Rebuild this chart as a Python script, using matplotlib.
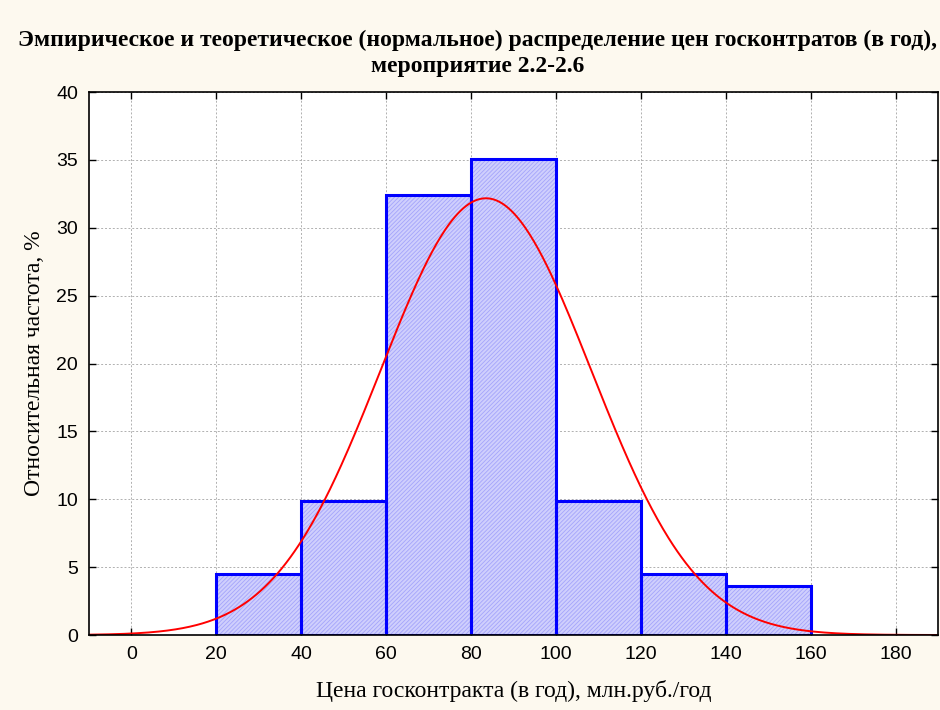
import numpy as np
import matplotlib
matplotlib.use("Agg")
import matplotlib.pyplot as plt

bin_edges = [20, 40, 60, 80, 100, 120, 140, 160]
rel_freq = [4.5, 9.9, 32.4, 35.1, 9.9, 4.5, 3.6]
norm_mean = 83.5
norm_sd = 24.8
bin_width = 20
x_ticks = [0, 20, 40, 60, 80, 100, 120, 140, 160, 180]
y_ticks = [0, 5, 10, 15, 20, 25, 30, 35, 40]

title = "Эмпирическое и теоретическое (нормальное) распределение цен госконтратов (в год),\nмероприятие 2.2-2.6"
xlabel = "Цена госконтракта (в год), млн.руб./год"
ylabel = "Относительная частота, %"

plt.rcParams['hatch.linewidth'] = 0.6
fig = plt.figure(figsize=(9.4, 7.1), dpi=100, facecolor='#fdf9ef')
ax = fig.add_axes([0.0947, 0.1056, 0.9032, 0.7648])
ax.set_facecolor('white')

lefts = bin_edges[:-1]
widths = np.diff(bin_edges)
ax.bar(lefts, rel_freq, width=widths, align='edge', facecolor='#cfcffd',
       edgecolor='#a4a4fb', linewidth=0, hatch='////////', zorder=2)
ax.bar(lefts, rel_freq, width=widths, align='edge', facecolor='none',
       edgecolor='#0000ff', linewidth=2.2, zorder=3)

xs = np.linspace(-10, 190, 600)
ys = 100 * bin_width / (norm_sd * np.sqrt(2 * np.pi)) * np.exp(-0.5 * ((xs - norm_mean) / norm_sd) ** 2)
ax.plot(xs, ys, color='red', linewidth=1.4, zorder=4)

ax.set_xlim(-10, 190)
ax.set_ylim(0, 40)
ax.set_xticks(x_ticks)
ax.set_yticks(y_ticks)
ax.grid(True, color='#b0b0b0', linestyle=(0, (2, 2)), linewidth=0.7, zorder=0)
ax.set_axisbelow(True)
ax.tick_params(direction='in', top=True, right=True, length=5, width=1,
               labelsize=14, pad=8)
for lab in ax.get_xticklabels() + ax.get_yticklabels():
    lab.set_family('Liberation Sans')
for s in ax.spines.values():
    s.set_linewidth(1.2)
    s.set_zorder(5)

ax.set_xlabel(xlabel, family='Liberation Serif', fontsize=17, labelpad=12)
ax.set_ylabel(ylabel, family='Liberation Serif', fontsize=17, labelpad=8)
fig.text(0.508, 0.925, title, ha='center', va='center', family='Liberation Serif',
         fontweight='bold', fontsize=17, linespacing=1.3)

fig.savefig('out.png', dpi=100, facecolor=fig.get_facecolor())
